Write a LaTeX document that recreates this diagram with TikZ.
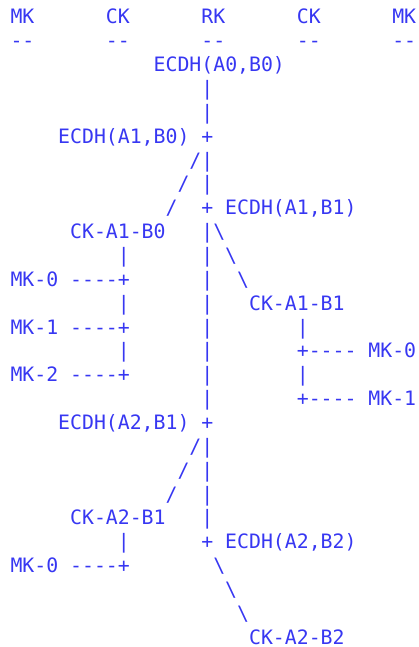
\documentclass[tikz,border=0pt]{standalone}
\usepackage{fontspec}
\setmonofont{DejaVu Sans Mono}
\definecolor{asciiblue}{RGB}{55,55,242}
\newcommand\tok[4]{\node[tok] (#1) at ({10.5pt+#2*11.93pt},{-24pt-#3*23.85pt}) {#4};}
\tikzset{tok/.style={anchor=base west,inner sep=0pt,outer sep=0pt,text=asciiblue,text depth=0pt,
  font=\ttfamily\fontsize{19.82pt}{23.85pt}\selectfont}}
\begin{document}
\begin{tikzpicture}
\useasboundingbox (0,0) rectangle (419pt,-647pt);
\frenchspacing
% header
\tok{h0}{0}{0}{MK}\tok{h1}{8}{0}{CK}\tok{h2}{16}{0}{RK}\tok{h3}{24}{0}{CK}\tok{h4}{32}{0}{MK}
\tok{u0}{0}{1}{-{}-}\tok{u1}{8}{1}{-{}-}\tok{u2}{16}{1}{-{}-}\tok{u3}{24}{1}{-{}-}\tok{u4}{32}{1}{-{}-}
% root chain
\tok{ecdhA0B0}{12}{2}{ECDH(A0,B0)}
\tok{v3}{16}{3}{|}
\tok{v4}{16}{4}{|}
\tok{ecdhA1B0}{4}{5}{ECDH(A1,B0)}\tok{p5}{16}{5}{+}
\tok{s6}{15}{6}{/|}
\tok{s7}{14}{7}{/}\tok{v7}{16}{7}{|}
\tok{s8}{13}{8}{/}\tok{p8}{16}{8}{+}\tok{ecdhA1B1}{18}{8}{ECDH(A1,B1)}
\tok{ckA1B0}{5}{9}{CK-A1-B0}\tok{v9}{16}{9}{|\textbackslash}
\tok{l10}{9}{10}{|}\tok{v10}{16}{10}{|}\tok{b10}{18}{10}{\textbackslash}
\tok{mkL0}{0}{11}{MK-0}\tok{d11}{5}{11}{-{}-{}-{}-+}\tok{v11}{16}{11}{|}\tok{b11}{19}{11}{\textbackslash}
\tok{l12}{9}{12}{|}\tok{v12}{16}{12}{|}\tok{ckA1B1}{20}{12}{CK-A1-B1}
\tok{mkL1}{0}{13}{MK-1}\tok{d13}{5}{13}{-{}-{}-{}-+}\tok{v13}{16}{13}{|}\tok{r13}{24}{13}{|}
\tok{l14}{9}{14}{|}\tok{v14}{16}{14}{|}\tok{d14}{24}{14}{+-{}-{}-{}-}\tok{mkR0}{30}{14}{MK-0}
\tok{mkL2}{0}{15}{MK-2}\tok{d15}{5}{15}{-{}-{}-{}-+}\tok{v15}{16}{15}{|}\tok{r15}{24}{15}{|}
\tok{v16}{16}{16}{|}\tok{d16}{24}{16}{+-{}-{}-{}-}\tok{mkR1}{30}{16}{MK-1}
\tok{ecdhA2B1}{4}{17}{ECDH(A2,B1)}\tok{p17}{16}{17}{+}
\tok{s18}{15}{18}{/|}
\tok{s19}{14}{19}{/}\tok{v19}{16}{19}{|}
\tok{s20}{13}{20}{/}\tok{v20}{16}{20}{|}
\tok{ckA2B1}{5}{21}{CK-A2-B1}\tok{v21}{16}{21}{|}
\tok{l22}{9}{22}{|}\tok{p22}{16}{22}{+}\tok{ecdhA2B2}{18}{22}{ECDH(A2,B2)}
\tok{mkL3}{0}{23}{MK-0}\tok{d23}{5}{23}{-{}-{}-{}-+}\tok{b23}{17}{23}{\textbackslash}
\tok{b24}{18}{24}{\textbackslash}
\tok{b25}{19}{25}{\textbackslash}
\tok{ckA2B2}{20}{26}{CK-A2-B2}
\end{tikzpicture}
\end{document}
